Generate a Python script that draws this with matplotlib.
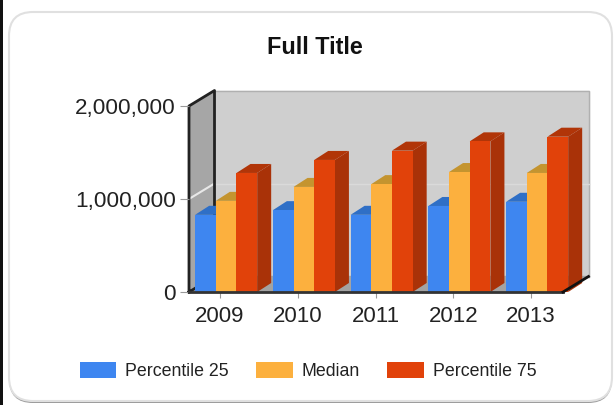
import matplotlib

matplotlib.use("Agg")
import matplotlib.pyplot as plt
from matplotlib.patches import FancyBboxPatch, Rectangle

plt.rcParams["font.family"] = ["Liberation Sans", "DejaVu Sans"]

YEARS = ["2009", "2010", "2011", "2012", "2013"]
P25 = [830000, 880000, 830000, 925000, 970000]
MEDIAN = [980000, 1130000, 1160000, 1290000, 1280000]
P75 = [1280000, 1420000, 1520000, 1620000, 1670000]
YTICKS = [0, 1000000, 2000000]

W, H = 614, 405
# front plane of the 3d box, in pixels
LEFT, RIGHT, TOP, BOTTOM = 189, 563, 106, 292
PX_X = 77.75           # pixels per category
PX_Y = 186 / 2000000   # pixels per unit value
BAR_W = 20.7 / PX_X
BAR_DX, BAR_DY = 14 / PX_X, 9 / PX_Y
WALL_DX, WALL_DY = 25.5 / PX_X, 15.5 / PX_Y
XMIN, XMAX = (LEFT - 220) / PX_X, (RIGHT - 220) / PX_X

# front, side, top colours per series
SERIES = [
    ("Percentile 25", P25, -0.187, "#3e86f0", "#2c62b4", "#2f6fc6"),
    ("Median", MEDIAN, 0.079, "#fcb03e", "#bd8a2e", "#c4942f"),
    ("Percentile 75", P75, 0.345, "#e1420a", "#a93208", "#b13508"),
]

fig = plt.figure(figsize=(W / 100, H / 100), dpi=100, facecolor="white")

# card behind the chart: darker offset shape gives the bottom shadow
bg = fig.add_axes([0, 0, 1, 1], zorder=0)
bg.set_xlim(0, W)
bg.set_ylim(H, 0)
bg.axis("off")
bg.add_patch(FancyBboxPatch((9, 14), 603, 389, boxstyle="round,pad=0,rounding_size=1",
                            mutation_scale=24, fc="#9a9a9a", ec="none"))
bg.add_patch(FancyBboxPatch((9, 12), 603, 389, boxstyle="round,pad=0,rounding_size=1",
                            mutation_scale=24, fc="white", ec="#e0e0e0", lw=1.5))
bg.add_patch(Rectangle((0, 0), 3, H, fc="#111111", ec="none"))

ax = fig.add_axes([LEFT / W, 1 - BOTTOM / H, (RIGHT - LEFT) / W, (BOTTOM - TOP) / H], zorder=1)
ax.patch.set_visible(False)
ax.set_xlim(XMIN, XMAX)
ax.set_ylim(0, 2000000)
for s in ax.spines.values():
    s.set_visible(False)

xb, xc = XMIN + WALL_DX, XMAX + WALL_DX
ytop = 2000000 + WALL_DY
# back wall, floor, left wall
ax.fill([xb, xc, xc, xb], [WALL_DY, WALL_DY, ytop, ytop], color="#cfcfcf", clip_on=False, zorder=1)
ax.plot([xb, xc, xc], [ytop, ytop, WALL_DY], color="#b0b0b0", lw=1, clip_on=False, zorder=1.1)
ax.plot([xb, xc], [1000000 + WALL_DY] * 2, color="#dadada", lw=1, clip_on=False, zorder=1.1)
ax.fill([XMIN, XMAX, xc, xb], [0, 0, WALL_DY, WALL_DY], color="#a3a3a3", clip_on=False, zorder=1)
ax.fill([XMIN, xb, xb, XMIN], [0, WALL_DY, ytop, 2000000], color="#a6a6a6", clip_on=False, zorder=1)
ax.plot([XMIN, xb], [1000000, 1000000 + WALL_DY], color="#e8e8e8", lw=1.5, clip_on=False, zorder=1.2)
# box edges
ax.plot([XMIN, XMIN, xb, xb, XMIN], [0, 2000000, ytop, WALL_DY, 0], color="#222222", lw=2,
        clip_on=False, zorder=1.5)
ax.plot([XMIN, XMAX], [0, 0], color="#333333", lw=2, clip_on=False, zorder=20)
ax.plot([XMAX, xc], [0, WALL_DY], color="#111111", lw=2, clip_on=False, zorder=20)

z = 2
for i in range(len(YEARS)):
    for label, vals, off, front, side, top in SERIES:
        x0 = i + off - BAR_W / 2
        x1 = x0 + BAR_W
        v = vals[i]
        ax.fill([x1, x1 + BAR_DX, x1 + BAR_DX, x1], [0, BAR_DY, v + BAR_DY, v],
                color=side, lw=0, clip_on=False, zorder=z)
        ax.fill([x0, x1, x1 + BAR_DX, x0 + BAR_DX], [v, v, v + BAR_DY, v + BAR_DY],
                color=top, lw=0, clip_on=False, zorder=z)
        ax.bar(i + off, v, BAR_W, color=front, lw=0, zorder=z + 0.5, clip_on=False,
               label=label if i == 0 else None)
        z += 1

ax.set_xticks(range(len(YEARS)), YEARS)
ax.set_yticks(YTICKS, [f"{v:,}" for v in YTICKS])
ax.tick_params(axis="x", length=4, width=0.8, color="#999999", pad=6, labelsize=16, labelcolor="#222222")
ax.tick_params(axis="y", length=6.5, width=0.8, color="#999999", pad=3, labelsize=16.2, labelcolor="#222222")

fig.text(315 / W, 1 - 48 / H, "Full Title", ha="center", va="center", fontsize=16.8,
         fontweight="bold", color="#111111")

ax.legend(loc="center", bbox_to_anchor=(308 / W, 1 - 371 / H), bbox_transform=fig.transFigure,
          ncol=3, frameon=False, fontsize=12.8, handlelength=2.05, handleheight=1.0,
          handletextpad=0.5, columnspacing=1.55, borderpad=0, labelcolor="#222222")

fig.savefig("out.png", dpi=100)
